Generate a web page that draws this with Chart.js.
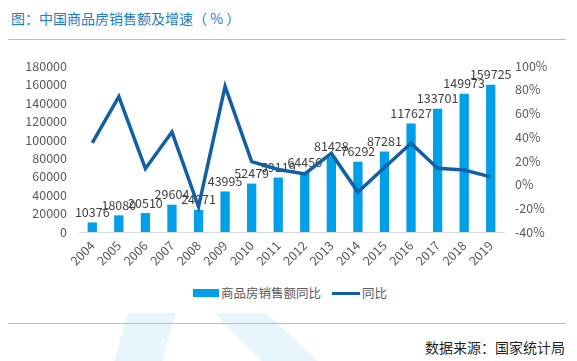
<!DOCTYPE html>
<html>
<head>
<meta charset="utf-8">
<script src="https://cdn.jsdelivr.net/npm/chart.js@4.4.1/dist/chart.umd.min.js"></script>
<style>
  html, body { margin: 0; padding: 0; background: #fff; }
  body { width: 577px; height: 361px; position: relative; overflow: hidden;
         font-family: "Noto Sans CJK SC", "Noto Sans", sans-serif; }
  .wm { position: absolute; background: #e7f5fd; }
  #wm1 { left: 100px; top: 305px; width: 80px; height: 60px;
         clip-path: polygon(28px 8px, 76px 8px, 62px 56px, 14px 56px); }
  #wm2 { left: 200px; top: 305px; width: 130px; height: 60px;
         clip-path: polygon(14px 8px, 66px 8px, 118px 56px, 62px 56px); }
  #title { position: absolute; left: 11px; top: 8px; font-size: 14px; color: #1a7cc4;
           line-height: 20px; white-space: nowrap; }
  .rule { position: absolute; left: 8px; width: 558px; height: 1px; background: #bdbdbd; }
  #chartbox { position: absolute; left: 0; top: 0; width: 577px; height: 278px; }
  #legend { position: absolute; top: 284px; left: 0; width: 577px; height: 18px; }
  .lg { position: absolute; top: 0; font-size: 12.5px; color: #595959; line-height: 18px; white-space: nowrap; }
  .sw { position: absolute; }
  #source { position: absolute; right: 12px; top: 337px; font-size: 14px; color: #1f1f1f;
            line-height: 20px; white-space: nowrap; }
</style>
</head>
<body>
<div class="wm" id="wm1"></div>
<div class="wm" id="wm2"></div>
<div id="title">图：中国商品房销售额及增速（ % ）</div>
<div class="rule" style="top:39px"></div>
<div id="chartbox"><canvas id="c" width="577" height="278"></canvas></div>
<div id="legend">
  <div class="sw" style="left:193px; top:5px; width:26px; height:8px; background:#00a0e9"></div>
  <div class="lg" style="left:221px">商品房销售额同比</div>
  <div class="sw" style="left:332px; top:8px; width:28px; height:3px; background:#135fa5"></div>
  <div class="lg" style="left:362px">同比</div>
</div>
<div class="rule" style="top:323px"></div>
<div id="source">数据来源：国家统计局</div>
<script>
const years = ['2004','2005','2006','2007','2008','2009','2010','2011','2012','2013','2014','2015','2016','2017','2018','2019'];
const salesAmount = [10376, 18080, 20510, 29604, 24071, 43995, 52479, 59119, 64456, 81428, 76292, 87281, 117627, 133701, 149973, 159725];
const growthPct = [35.1, 74.2, 13.4, 44.3, -18.7, 82.8, 19.3, 12.7, 9.0, 26.3, -6.3, 14.4, 34.8, 13.7, 12.2, 6.5];
const leftTicks = [0, 180000, 20000];
const rightTicks = [-40, 100, 20];

const TICK_FONT = { family: '"Noto Sans CJK SC", "Noto Sans", sans-serif', size: 12.5 };
const TICK_COLOR = '#595959';

const barLabels = {
  id: 'barLabels',
  afterDatasetDraw(chart, args) {
    if (args.index !== 1) return;
    const ctx = chart.ctx;
    ctx.save();
    ctx.font = '12.5px "Noto Sans CJK SC", "Noto Sans", sans-serif';
    ctx.fillStyle = '#404040';
    ctx.textAlign = 'center';
    ctx.textBaseline = 'bottom';
    args.meta.data.forEach((el, i) => {
      ctx.fillText(String(salesAmount[i]), el.x, el.y - 4);
    });
    ctx.restore();
  }
};

new Chart(document.getElementById('c'), {
  type: 'bar',
  data: {
    labels: years,
    datasets: [
      {
        type: 'line',
        label: '同比',
        data: growthPct,
        yAxisID: 'y1',
        borderColor: '#135fa5',
        backgroundColor: '#135fa5',
        borderWidth: 3.5,
        pointRadius: 0,
        tension: 0,
        order: 0
      },
      {
        type: 'bar',
        label: '商品房销售额同比',
        data: salesAmount,
        yAxisID: 'y',
        backgroundColor: '#00a0e9',
        barPercentage: 0.35,
        categoryPercentage: 1,
        order: 1
      }
    ]
  },
  options: {
    responsive: false,
    animation: false,
    layout: { padding: { top: 66, bottom: 0, left: 0, right: 0 } },
    plugins: { legend: { display: false }, tooltip: { enabled: false } },
    scales: {
      x: {
        grid: { display: false, drawTicks: false },
        border: { display: true, color: '#d9d9d9', width: 1 },
        ticks: { color: TICK_COLOR, font: TICK_FONT, minRotation: 45, maxRotation: 45, padding: 6 },
        afterFit(s) { s.height = 46; }
      },
      y: {
        position: 'left',
        min: leftTicks[0], max: leftTicks[1],
        grid: { display: false, drawTicks: false },
        border: { display: false },
        ticks: { stepSize: leftTicks[2], color: TICK_COLOR, font: TICK_FONT, padding: 12,
                 callback: v => String(v) },
        afterFit(s) { s.width = 79; }
      },
      y1: {
        position: 'right',
        min: rightTicks[0], max: rightTicks[1],
        grid: { display: false, drawTicks: false },
        border: { display: false },
        ticks: { stepSize: rightTicks[2], color: TICK_COLOR, font: TICK_FONT, padding: 11,
                 callback: v => v + '%' },
        afterFit(s) { s.width = 73; }
      }
    }
  },
  plugins: [barLabels]
});
</script>
</body>
</html>
